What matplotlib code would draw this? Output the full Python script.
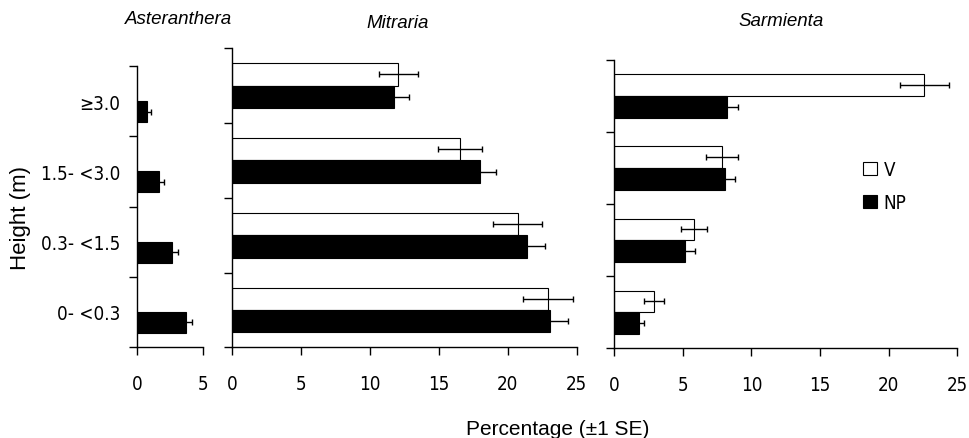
import numpy as np
import matplotlib
matplotlib.use("Agg")
import matplotlib.pyplot as plt
from matplotlib import font_manager
from matplotlib.font_manager import FontProperties
from matplotlib.patches import Patch

# look for a narrow face for the tick text, fall back to Liberation Sans
narrow_file = None
for f in font_manager.fontManager.ttflist:
    if f.name == "Liberation Sans Narrow" and f.style == "normal" and f.weight in (400, "normal"):
        narrow_file = f.fname
        break
if narrow_file is None:
    for f in font_manager.fontManager.ttflist:
        if f.name == "DejaVu Sans" and "condensed" in str(f.stretch) and f.style == "normal" \
                and f.weight in (400, "normal"):
            narrow_file = f.fname
            break

REG = "Liberation Sans"
plt.rcParams["font.family"] = [REG, "DejaVu Sans"]
if narrow_file:
    TICKFP = FontProperties(fname=narrow_file, size=13.5)
else:
    TICKFP = FontProperties(family=REG, size=13)

# data (percent, +/- 1 SE), bottom -> top
heights = ["0- <0.3", "0.3- <1.5", "1.5- <3.0", "\u22653.0"]

aster_np    = [3.69, 2.67, 1.67, 0.76]
aster_np_se = [0.50, 0.46, 0.38, 0.28]

mitr_v     = [22.93, 20.71, 16.52, 12.05]
mitr_v_se  = [1.80, 1.80, 1.60, 1.40]
mitr_np    = [23.05, 21.41, 17.97, 11.73]
mitr_np_se = [1.30, 1.28, 1.20, 1.07]

sarm_v     = [2.92, 5.83, 7.87, 22.60]
sarm_v_se  = [0.72, 0.96, 1.16, 1.76]
sarm_np    = [1.80, 5.15, 8.07, 8.24]
sarm_np_se = [0.39, 0.70, 0.75, 0.76]

W, H = 970, 439
fig = plt.figure(figsize=(W / 100, H / 100), dpi=100)


def px_axes(x0, x1, y0, y1):
    return fig.add_axes([x0 / W, 1 - y1 / H, (x1 - x0) / W, (y1 - y0) / H])


def style(ax, xmax, xticks, ylabels=False):
    for s in ("top", "right"):
        ax.spines[s].set_visible(False)
    for s in ("left", "bottom"):
        ax.spines[s].set_linewidth(1.0)
    ax.set_xlim(0, xmax)
    ax.set_ylim(0, 4)
    ax.set_xticks(list(xticks))
    ax.set_xticklabels([str(t) for t in xticks], fontproperties=TICKFP)
    ax.set_yticks([0, 1, 2, 3, 4])
    ax.set_yticklabels([])
    ax.tick_params(axis="both", which="major", direction="out", length=6, width=1.0, pad=13.5)
    if ylabels:
        ax.set_yticks(np.arange(4) + 0.5, minor=True)
        ax.set_yticklabels(heights, minor=True, fontproperties=TICKFP)
        ax.tick_params(axis="y", which="minor", length=0, pad=12)


def bars(ax, v, vse, npv, npse):
    y = np.arange(4)
    bh = 0.3
    if v is not None:
        ax.barh(y + 0.5 + bh / 2, v, height=bh, color="white", edgecolor="black",
                linewidth=0.8, zorder=2)
        ax.errorbar(v, y + 0.5 + bh / 2, xerr=vse, fmt="none", ecolor="black",
                    elinewidth=1.0, capsize=2.5, capthick=1.0, zorder=3)
    ax.barh(y + 0.5 - bh / 2, npv, height=bh, color="black", edgecolor="black",
            linewidth=0.8, zorder=2)
    ax.errorbar(npv, y + 0.5 - bh / 2, xerr=npse, fmt="none", ecolor="black",
                elinewidth=1.0, capsize=2.5, capthick=1.0, zorder=3)


ax1 = px_axes(137, 203, 67, 348)
bars(ax1, None, None, aster_np, aster_np_se)
style(ax1, 5, [0, 5], ylabels=True)

ax2 = px_axes(232.3, 576.7, 49.3, 348.3)
bars(ax2, mitr_v, mitr_v_se, mitr_np, mitr_np_se)
style(ax2, 25, range(0, 26, 5))

ax3 = px_axes(614.3, 957.3, 61, 349.3)
bars(ax3, sarm_v, sarm_v_se, sarm_np, sarm_np_se)
style(ax3, 25, range(0, 26, 5))

for x, y, t in [(178, 20, "Asteranthera"), (398, 23.5, "Mitraria"), (781, 22, "Sarmienta")]:
    fig.text(x / W, 1 - y / H, t, ha="center", va="center", style="italic", fontsize=13.5)

fig.text(21 / W, 1 - 218 / H, "Height (m)", rotation=90, ha="center", va="center",
         fontsize=16)
fig.text(558 / W, 1 - 435 / H, "Percentage (\u00b11 SE)", ha="center", va="baseline",
         fontsize=15)

handles = [Patch(facecolor="white", edgecolor="black", linewidth=0.8, label="V"),
           Patch(facecolor="black", edgecolor="black", linewidth=0.8, label="NP")]
fig.legend(handles=handles, loc="upper left", bbox_to_anchor=(863 / W, 1 - 161 / H),
           bbox_transform=fig.transFigure, frameon=False, prop=TICKFP, borderpad=0,
           borderaxespad=0, handlelength=0.75, handleheight=0.75, handletextpad=0.35,
           labelspacing=0.75)

fig.savefig("out.png", dpi=100)
